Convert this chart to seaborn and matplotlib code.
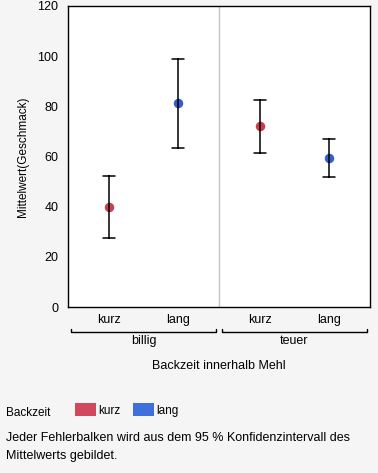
import pandas as pd
import matplotlib.pyplot as plt
import numpy as np
import seaborn as sns
from matplotlib.patches import Patch

# summary values: mean and 95% CI bounds
mehl = ["billig", "billig", "teuer", "teuer"]
backzeit = ["kurz", "lang", "kurz", "lang"]
mittel = [40.0, 81.3, 72.2, 59.4]
ci_low = [27.4, 63.3, 61.3, 51.7]
ci_high = [52.3, 99.0, 82.7, 66.8]

mehl_order = ["billig", "teuer"]
zeit_order = ["kurz", "lang"]
farben = {"kurz": "#d1475b", "lang": "#3f6fdc"}
punkt_farben = {"kurz": "#c8404f", "lang": "#3a5cc6"}

# long table: median of (low, mean, high) is the mean, min/max give the CI
rows = []
for m, b, mu, lo, hi in zip(mehl, backzeit, mittel, ci_low, ci_high):
    for v in (lo, mu, hi):
        rows.append({"Mehl": m, "Backzeit": b, "Geschmack": v})
df = pd.DataFrame(rows)

sns.set_style("white")
plt.rcParams['font.family'] = ['Liberation Sans', 'DejaVu Sans']
plt.rcParams.update({"text.color": "black", "axes.labelcolor": "black",
                     "xtick.color": "black", "ytick.color": "black"})

fig = plt.figure(figsize=(3.78, 4.73), dpi=100)
fig.patch.set_facecolor("#f5f5f5")
ax = fig.add_axes([68 / 378, 1 - 307 / 473, 302 / 378, 301 / 473])
ax.set_facecolor("white")

sns.pointplot(data=df, x="Mehl", y="Geschmack", hue="Backzeit",
              order=mehl_order, hue_order=zeit_order, palette=punkt_farben,
              estimator=np.median, errorbar=("pi", 100), dodge=0.456,
              linestyle="none", markers="o", markersize=4.8, capsize=0.075,
              err_kws={"color": "black", "linewidth": 1.1}, legend=False, ax=ax)

ax.set_xlim(-0.5, 1.5)
ax.set_ylim(0, 120)
ax.set_yticks(range(0, 121, 20))
ax.tick_params(axis="y", length=5, width=1, color="black", labelcolor="black",
               labelsize=9, pad=2)
ax.tick_params(axis="x", length=0, labelsize=9, pad=5, labelcolor="black")
for s in ax.spines.values():
    s.set_color("black")
    s.set_linewidth(1)
ax.axvline(0.5, color="#c4c4c4", linewidth=1, zorder=0)

# inner category labels
off = 0.456 / 2
pos = [i + d for i in range(len(mehl_order)) for d in (-off, off)]
ax.set_xticks(pos)
ax.set_xticklabels(zeit_order * len(mehl_order))
ax.set_xlabel("")
ax.set_ylabel("Mittelwert(Geschmack)", fontsize=8.5, labelpad=6, color="black")

# group brackets and outer labels
tr = ax.get_xaxis_transform()
px = 1 / 301
for i, m in enumerate(mehl_order):
    x0, x1 = i - 0.48, i + 0.48
    ax.plot([x0, x0, x1, x1], [-22 * px, -25 * px, -25 * px, -22 * px],
            color="black", linewidth=1, transform=tr, clip_on=False)
    ax.text(i, -34 * px, m, transform=tr, ha="center", va="center", fontsize=9)
ax.text(0.5, -59 * px, "Backzeit innerhalb Mehl", transform=ax.transAxes,
        ha="center", va="center", fontsize=9)

# legend
fig.text(6 / 378, 1 - 413 / 473, "Backzeit", ha="left", va="center", fontsize=8.5)
handles = [Patch(facecolor=farben[z], edgecolor="none", label=z) for z in zeit_order]
fig.legend(handles=handles, loc="center left", bbox_to_anchor=(69 / 378, 1 - 410 / 473),
           ncol=2, frameon=False, fontsize=8.5, handlelength=1.8, handleheight=1.2,
           handletextpad=0.15, columnspacing=1.1, borderpad=0)

fig.text(6 / 378, 1 - 438 / 473,
         "Jeder Fehlerbalken wird aus dem 95 % Konfidenzintervall des",
         ha="left", va="center", fontsize=9)
fig.text(6 / 378, 1 - 456 / 473, "Mittelwerts gebildet.",
         ha="left", va="center", fontsize=9)

fig.savefig("out.png", dpi=100, facecolor=fig.get_facecolor())
